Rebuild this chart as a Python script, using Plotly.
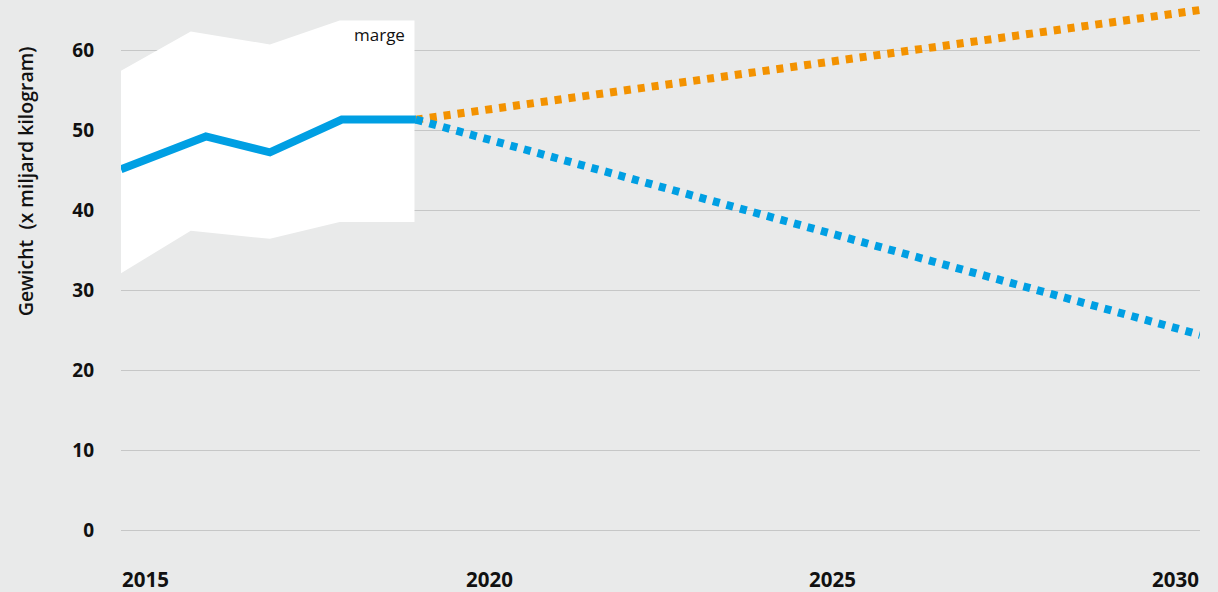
import plotly.graph_objects as go

# Historical series (positions in years)
hist_x = [2015.0, 2016.18, 2017.07, 2018.07, 2019.1]
hist_y = [45.1, 49.2, 47.2, 51.3, 51.3]

# Uncertainty band ("marge")
band_x = [2015.0, 2015.97, 2017.07, 2018.04, 2019.08]
band_upper = [57.4, 62.3, 60.7, 63.7, 63.7]
band_lower = [32.1, 37.4, 36.4, 38.5, 38.5]

# Projections
proj_x = [2019.1, 2030.0]
proj_high = [51.3, 65.0]
proj_low = [51.3, 24.4]

y_ticks = [0, 10, 20, 30, 40, 50, 60]
x_labels = ["2015", "2020", "2025", "2030"]
x_label_pos = [2015, 2020, 2025, 2030]

BLUE = "#009fe3"
ORANGE = "#f39200"
BG = "#e9eaea"
FONT = "Open Sans"

fig = go.Figure()

fig.add_trace(go.Scatter(
    x=band_x + band_x[::-1],
    y=band_upper + band_lower[::-1],
    fill="toself", fillcolor="white",
    line=dict(width=0), mode="lines", hoverinfo="skip", showlegend=False,
))
fig.add_trace(go.Scatter(
    x=proj_x, y=proj_high, mode="lines",
    line=dict(color=ORANGE, width=8, dash="7px,7px"), showlegend=False,
))
fig.add_trace(go.Scatter(
    x=proj_x, y=proj_low, mode="lines",
    line=dict(color=BLUE, width=8, dash="7px,7px"), showlegend=False,
))
fig.add_trace(go.Scatter(
    x=hist_x, y=hist_y, mode="lines",
    line=dict(color=BLUE, width=8), showlegend=False,
))

annotations = [
    dict(text="marge", x=2018.97, y=61.9, xref="x", yref="y",
         xanchor="right", yanchor="middle", showarrow=False,
         font=dict(family=FONT, size=17, color="#111111")),
    dict(text="Gewicht  (x miljard kilogram)", x=0, xref="paper", xshift=-96,
         y=0.682, yref="paper", textangle=-90, xanchor="center", yanchor="middle",
         showarrow=False,
         font=dict(family=FONT, size=19.5, color="#111111", weight=600)),
]
anchors = ["left", "center", "center", "right"]
shifts = [0, 9, -8, 0]
for lab, pos, anc, sh in zip(x_labels, x_label_pos, anchors, shifts):
    annotations.append(dict(
        text=lab, x=pos, y=0, xref="x", yref="paper", xanchor=anc,
        yanchor="middle", xshift=sh, yshift=-9, borderpad=0, showarrow=False,
        font=dict(family=FONT, size=20.5, color="#111111", weight="bold")))

fig.update_layout(
    width=1218, height=592,
    margin=dict(l=121, r=18, t=0, b=22),
    paper_bgcolor=BG, plot_bgcolor=BG,
    xaxis=dict(range=[2015, 2030], showgrid=False, zeroline=False,
               showticklabels=False, ticks=""),
    yaxis=dict(range=[-5, 66.25], tickvals=y_ticks,
               ticktext=[str(v) for v in y_ticks],
               showgrid=True, gridcolor="#c6c7c7", gridwidth=1.3,
               zeroline=False, ticks="", ticklabelstandoff=26,
               tickfont=dict(family=FONT, size=19, color="#111111", weight="bold")),
    annotations=annotations,
    showlegend=False,
)

fig.write_html("out.html", config={"displayModeBar": False},
               post_script="document.body.style.margin='0';document.body.style.background='%s';" % BG)
